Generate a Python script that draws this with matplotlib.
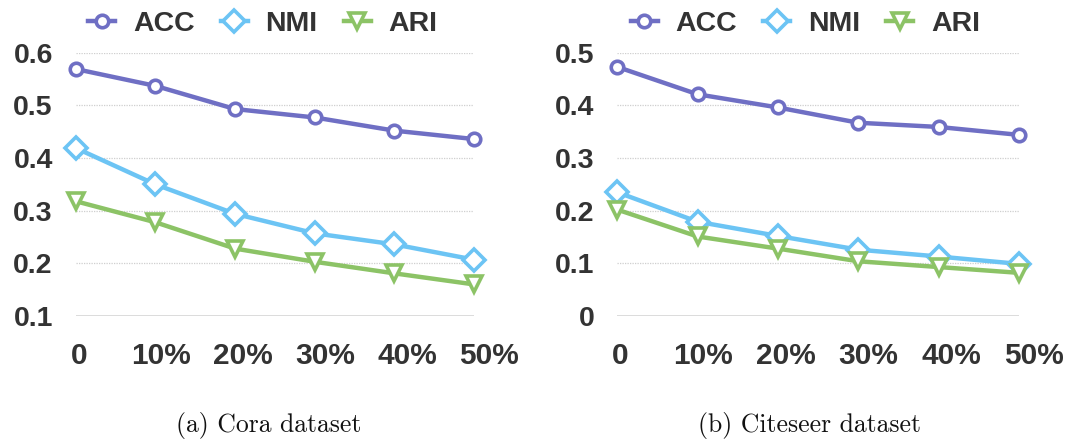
import matplotlib
matplotlib.use("Agg")
import matplotlib.pyplot as plt
from matplotlib.lines import Line2D
from matplotlib.transforms import ScaledTranslation

noise_levels = ["0", "10%", "20%", "30%", "40%", "50%"]

cora_acc = [0.569, 0.537, 0.493, 0.477, 0.452, 0.436]
cora_nmi = [0.419, 0.350, 0.294, 0.257, 0.236, 0.207]
cora_ari = [0.318, 0.278, 0.228, 0.203, 0.181, 0.160]
cora_yticks = [0.1, 0.2, 0.3, 0.4, 0.5, 0.6]
cora_yticklabels = ["0.1", "0.2", "0.3", "0.4", "0.5", "0.6"]

citeseer_acc = [0.473, 0.421, 0.396, 0.367, 0.359, 0.344]
citeseer_nmi = [0.235, 0.179, 0.152, 0.126, 0.113, 0.099]
citeseer_ari = [0.202, 0.151, 0.128, 0.104, 0.093, 0.082]
citeseer_yticks = [0.0, 0.1, 0.2, 0.3, 0.4, 0.5]
citeseer_yticklabels = ["0", "0.1", "0.2", "0.3", "0.4", "0.5"]

metric_names = ["ACC", "NMI", "ARI"]
captions = ["(a) Cora dataset", "(b) Citeseer dataset"]

COLORS = {"ACC": "#6f6fc4", "NMI": "#6cc4f4", "ARI": "#8cc366"}
MARKERS = {"ACC": ("o", 9), "NMI": ("D", 11.5), "ARI": ("v", 11)}
TEXT = "#333333"
FONT = "Liberation Sans"

fig = plt.figure(figsize=(10.68, 4.41), dpi=100)

panels = [
    (cora_acc, cora_nmi, cora_ari, cora_yticks, cora_yticklabels,
     [0.0709, 0.2834, 0.3730, 0.5971], 0.47, 0.252),
    (citeseer_acc, citeseer_nmi, citeseer_ari, citeseer_yticks, citeseer_yticklabels,
     [0.5780, 0.2834, 0.3760, 0.5971], 0.468, 0.758),
]

for idx, (acc, nmi, ari, yticks, ylabels, rect, legx, capx) in enumerate(panels):
    ax = fig.add_axes(rect)
    x = list(range(len(noise_levels)))
    handles = []
    for name, vals in zip(metric_names, [acc, nmi, ari]):
        mk, ms = MARKERS[name]
        ax.plot(x, vals, color=COLORS[name], lw=3.2, marker=mk, ms=ms,
                mfc="white", mec=COLORS[name], mew=2.6, clip_on=False, zorder=3)
        handles.append(Line2D([], [], color=COLORS[name], lw=3.2, marker=mk, ms=ms,
                              mfc="white", mec=COLORS[name], mew=2.6))
    ax.set_xlim(0, len(noise_levels) - 1)
    ax.set_ylim(yticks[0], yticks[-1])
    ax.set_xticks(x)
    ax.set_xticklabels(noise_levels)
    ax.set_yticks(yticks)
    ax.set_yticklabels(ylabels)
    for s in ax.spines.values():
        s.set_visible(False)
    for yv in yticks[1:]:
        ax.axhline(yv, color="#cfcfcf", lw=0.9, ls=(0, (1, 1)), zorder=1)
    ax.axhline(yticks[0], color="#d6d6d6", lw=1.2, zorder=1)
    ax.tick_params(axis="both", length=0)
    ax.tick_params(axis="y", pad=16.5)
    ax.tick_params(axis="x", pad=19)
    for lab in ax.get_yticklabels():
        lab.set_fontfamily(FONT)
        lab.set_fontweight("bold")
        lab.set_fontsize(20.5)
        lab.set_color(TEXT)
    # percentage labels drift slightly to the right of their ticks
    for i, lab in enumerate(ax.get_xticklabels()):
        lab.set_fontfamily(FONT)
        lab.set_fontweight("bold")
        lab.set_fontsize(21.5)
        lab.set_color(TEXT)
        shift = (3 + 2.4 * i) / 100.0
        lab.set_transform(lab.get_transform() + ScaledTranslation(shift, 0, fig.dpi_scale_trans))
    leg = ax.legend(handles, metric_names, loc="center", bbox_to_anchor=(legx, 1.11),
                    ncol=3, frameon=False, handlelength=0.95, handletextpad=0.62,
                    columnspacing=0.92, prop={"family": FONT, "weight": "bold", "size": 20.5})
    for t in leg.get_texts():
        t.set_color(TEXT)
    fig.text(capx, 0.035, captions[idx], ha="center", va="center",
             fontfamily="cmr10", fontsize=18.5, color="#111111")

fig.savefig("out.png", dpi=100, facecolor="white")
